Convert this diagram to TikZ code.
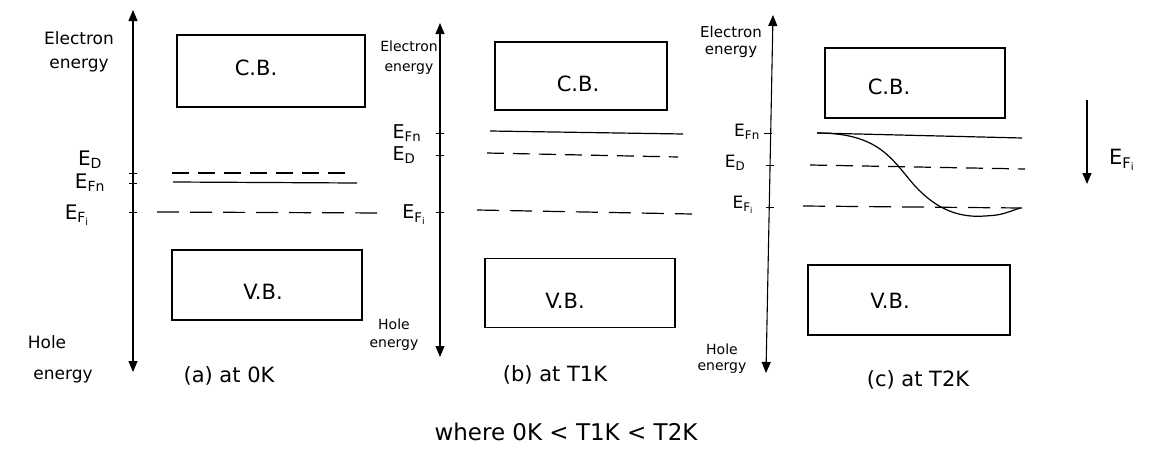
\documentclass[tikz,border=0pt]{standalone}
\usepackage{fontspec}
\setmainfont{DejaVu Sans}
\usetikzlibrary{arrows.meta}
\begin{document}
\begin{tikzpicture}[x=1pt,y=-1pt,
  band/.style={draw,line width=1.3pt,inner sep=0pt},
  btxt/.style={font=\fontsize{21}{23}\selectfont,inner sep=0pt},
  lbl/.style={font=\fontsize{17}{24}\selectfont,align=center,inner sep=0pt},
  captxt/.style={font=\fontsize{21}{23}\selectfont,inner sep=0pt},
  lev/.style={font=\fontsize{19}{20}\selectfont,inner sep=0pt},
  solidlev/.style={line width=1.2pt},
  dashlev/.style={line width=1.2pt,dash pattern=on 17pt off 9pt},
  axis/.style={line width=1.1pt,{Triangle[length=11pt,width=9pt]}-{Triangle[length=11pt,width=9pt]}},
  tickmark/.style={line width=1pt}]
\useasboundingbox (0,0) rectangle (1159,450);
\fill[white] (0,0) rectangle (1159,450);

% ---------- panel (a) ----------
\coordinate (atop) at (133,10);
\coordinate (abot) at (133,372);
\draw[axis] (abot) -- (atop);
\node[band,minimum width=188pt,minimum height=72pt] (cba) at (271,71) {};
\node[btxt] (cbat) at (256,68) {C.B.};
\node[band,minimum width=190pt,minimum height=70pt] (vba) at (267,285) {};
\node[btxt] (vbat) at (263,292) {V.B.};
\node[lbl] (ela) at (79,52) {Electron\\energy};
\node[lbl] (hla) at (47,342) {Hole};
\node[lbl] (hea) at (63,377) {energy};
\node[lev,font=\fontsize{20}{21}\selectfont] (eda) at (90,160) {E\textsubscript{D}};
\node[lev,font=\fontsize{20}{21}\selectfont] (efna) at (90,183) {E\textsubscript{Fn}};
\node[lev,font=\fontsize{20}{21}\selectfont] (efia) at (77,215) {E\textsubscript{F\textsubscript{i}}};
\coordinate (da1) at (172,173); \coordinate (da2) at (350,173);
\coordinate (na1) at (173,182); \coordinate (na2) at (357,183);
\coordinate (ia1) at (157,212); \coordinate (ia2) at (384,213);
\draw[dashlev] (da1) -- (da2);
\draw[solidlev] (na1) -- (na2);
\draw[dashlev,dash pattern=on 22pt off 11pt] (ia1) -- (ia2);
\foreach \y in {173,183,212} \draw[tickmark] (129,\y) -- (137,\y);
\node[captxt] (capa) at (229,376) {(a) at 0K};

% ---------- panel (b) ----------
\coordinate (btop) at (440,23);
\coordinate (bbot) at (440,357);
\draw[axis] (bbot) -- (btop);
\node[band,minimum width=172pt,minimum height=68pt] (cbb) at (581,76) {};
\node[btxt] (cbbt) at (578,84) {C.B.};
\node[band,minimum width=190pt,minimum height=69pt] (vbb) at (580,293) {};
\node[btxt] (vbbt) at (565,301) {V.B.};
\node[lbl,font=\fontsize{14}{20}\selectfont] (elb) at (409,58) {Electron\\energy};
\node[lbl,font=\fontsize{14}{18}\selectfont] (hlb) at (394,335) {Hole\\energy};
\node[lev] (efnb) at (407,133) {E\textsubscript{Fn}};
\node[lev] (edb) at (404,155) {E\textsubscript{D}};
\node[lev] (efib) at (414,215) {E\textsubscript{F\textsubscript{i}}};
\coordinate (nb1) at (490,131); \coordinate (nb2) at (683,134);
\coordinate (db1) at (487,153); \coordinate (db2) at (678,157);
\coordinate (ib1) at (477,210); \coordinate (ib2) at (692,214);
\draw[solidlev] (nb1) -- (nb2);
\draw[dashlev] (db1) -- (db2);
\draw[dashlev,dash pattern=on 22pt off 11pt] (ib1) -- (ib2);
\foreach \y in {133,155,212} \draw[tickmark] (436,\y) -- (444,\y);
\node[captxt] (capb) at (555,375) {(b) at T1K};

% ---------- panel (c) ----------
\coordinate (ctop) at (773,15);
\coordinate (cbot) at (766,373);
\draw[axis] (cbot) -- (ctop);
\node[band,minimum width=180pt,minimum height=70pt] (cbc) at (915,83) {};
\node[btxt] (cbct) at (889,87) {C.B.};
\node[band,minimum width=202pt,minimum height=70pt] (vbc) at (909,300) {};
\node[btxt] (vbct) at (890,301) {V.B.};
\node[lbl,font=\fontsize{15}{17}\selectfont] (elc) at (731,42) {Electron\\energy};
\node[lbl,font=\fontsize{14}{16}\selectfont] (hlc) at (722,359) {Hole\\energy};
\node[lev,font=\fontsize{17}{18}\selectfont] (efnc) at (747,132) {E\textsubscript{Fn}};
\node[lev,font=\fontsize{17}{18}\selectfont] (edc) at (735,163) {E\textsubscript{D}};
\node[lev,font=\fontsize{17}{18}\selectfont] (efic) at (743,205) {E\textsubscript{F\textsubscript{i}}};
\coordinate (nc1) at (817,133); \coordinate (nc2) at (1022,138);
\coordinate (dc1) at (810,165); \coordinate (dc2) at (1025,169);
\coordinate (ic1) at (803,206); \coordinate (ic2) at (1022,208);
\draw[solidlev] (nc1) -- (nc2);
\draw[dashlev] (dc1) -- (dc2);
\draw[dashlev,dash pattern=on 22pt off 11pt] (ic1) -- (ic2);
\draw[solidlev] (nc1) .. controls (880,133) and (892,160) .. (915,186)
  .. controls (937,210) and (960,218) .. (985,216)
  .. controls (1000,215) .. (1020,208);
\draw[tickmark] (764,133) -- (772,133);
\foreach \y in {165,207} \draw[tickmark] (766,\y) -- (774,\y);
\node[captxt] (capc) at (918,380) {(c) at T2K};
\coordinate (sa1) at (1087,100);
\coordinate (sa2) at (1087,184);
\draw[line width=1.1pt,-{Triangle[length=11pt,width=9pt]}] (sa1) -- (sa2);
\node[lev,font=\fontsize{21}{22}\selectfont] (efis) at (1122,160) {E\textsubscript{F\textsubscript{i}}};

% ---------- bottom note ----------
\node[captxt,font=\fontsize{23}{25}\selectfont] (note) at (566,432) {where 0K < T1K < T2K};
\end{tikzpicture}
\end{document}
